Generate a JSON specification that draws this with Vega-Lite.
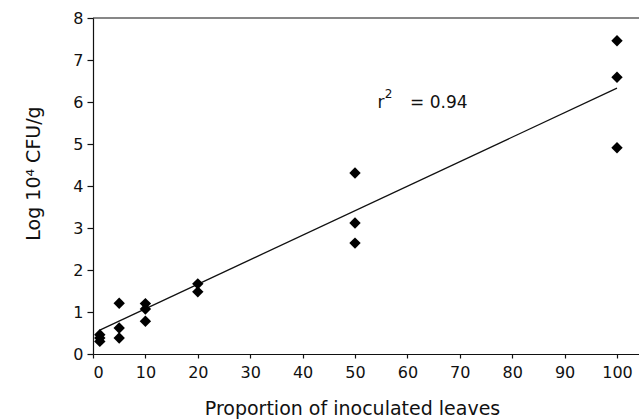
{
  "$schema": "https://vega.github.io/schema/vega-lite/v6.json",
  "autosize": {"type": "none"},
  "width": 546,
  "height": 336,
  "padding": {"left": 93, "top": 18, "right": 0, "bottom": 66},
  "background": "white",
  "config": {
    "view": {"stroke": null},
    "font": "DejaVu Sans",
    "axis": {"grid": false, "domainColor": "#111", "tickColor": "#111", "labelColor": "#111", "titleColor": "#111", "labelFont": "DejaVu Sans", "titleFont": "DejaVu Sans", "labelFontSize": 16, "titleFontSize": 19, "titleFontWeight": "normal", "domainWidth": 1.2, "tickWidth": 1.2}
  },
  "datasets": {
    "pts": [
      {"p": 1.3, "v": 0.46}, {"p": 1.3, "v": 0.38}, {"p": 1.3, "v": 0.3},
      {"p": 5, "v": 1.21}, {"p": 5, "v": 0.62}, {"p": 5, "v": 0.38},
      {"p": 10, "v": 1.2}, {"p": 10, "v": 1.07}, {"p": 10, "v": 0.78},
      {"p": 20, "v": 1.67}, {"p": 20, "v": 1.48},
      {"p": 50, "v": 4.31}, {"p": 50, "v": 3.12}, {"p": 50, "v": 2.64},
      {"p": 100, "v": 7.46}, {"p": 100, "v": 6.59}, {"p": 100, "v": 4.91}
    ],
    "fit": [{"p": 1.3, "v": 0.57}, {"p": 100, "v": 6.33}],
    "lbl": [{"p": 54.3, "v": 5.86, "t": "r"}, {"p": 60.5, "v": 5.86, "t": "= 0.94"}],
    "sup": [{"p": 55.7, "v": 6.1, "t": "2"}]
  },
  "layer": [
    {
      "data": {"name": "fit"},
      "mark": {"type": "line", "color": "#111", "strokeWidth": 1.3},
      "encoding": {
        "x": {"field": "p", "type": "quantitative", "scale": {"domain": [0, 104.2], "nice": false}, "axis": {"values": [0, 10, 20, 30, 40, 50, 60, 70, 80, 90, 100], "title": "Proportion of inoculated leaves", "tickSize": 4, "labelPadding": 6, "titleX": 259, "titleY": 60, "titleBaseline": "alphabetic"}},
        "y": {"field": "v", "type": "quantitative", "scale": {"domain": [0, 8], "nice": false}, "axis": {"values": [0, 1, 2, 3, 4, 5, 6, 7, 8], "title": "Log 10⁴ CFU/g", "tickSize": 6, "labelPadding": 4, "titlePadding": 29, "titleY": 155}}
      }
    },
    {
      "data": {"name": "pts"},
      "mark": {"type": "point", "shape": "diamond", "filled": true, "color": "#000", "size": 130, "opacity": 1},
      "encoding": {
        "x": {"field": "p", "type": "quantitative"},
        "y": {"field": "v", "type": "quantitative"}
      }
    },
    {
      "data": {"values": [{"top": 8}]},
      "mark": {"type": "rule", "color": "#111", "strokeWidth": 1.2},
      "encoding": {"y": {"field": "top", "type": "quantitative"}}
    },
    {
      "data": {"name": "lbl"},
      "mark": {"type": "text", "fontSize": 17, "color": "#111", "font": "DejaVu Sans", "align": "left", "baseline": "alphabetic"},
      "encoding": {
        "x": {"field": "p", "type": "quantitative"},
        "y": {"field": "v", "type": "quantitative"},
        "text": {"field": "t"}
      }
    },
    {
      "data": {"name": "sup"},
      "mark": {"type": "text", "fontSize": 12, "color": "#111", "font": "DejaVu Sans", "align": "left", "baseline": "alphabetic"},
      "encoding": {
        "x": {"field": "p", "type": "quantitative"},
        "y": {"field": "v", "type": "quantitative"},
        "text": {"field": "t"}
      }
    }
  ]
}
